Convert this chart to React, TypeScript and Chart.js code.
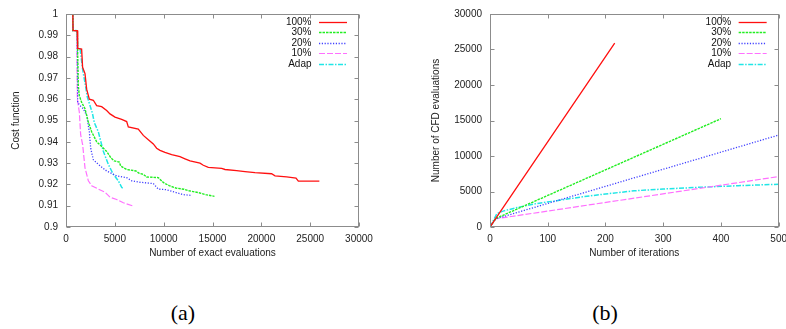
import React, { useEffect, useRef } from "react";
import { Chart, registerables } from "chart.js";
Chart.register(...registerables);

// ---------- data: panel (a) ----------
const seriesNames = ["100%", "30%", "20%", "10%", "Adap"];
const evalTicks = [0, 5000, 10000, 15000, 20000, 25000, 30000];
const costTicks = [0.9, 0.91, 0.92, 0.93, 0.94, 0.95, 0.96, 0.97, 0.98, 0.99, 1];

const cost100: [number, number][] = [
  [0, 1], [700, 1], [720, 0.9922], [1150, 0.9922], [1200, 0.9838], [1600, 0.9835],
  [1700, 0.975], [1945, 0.972], [2116, 0.9647], [2389, 0.96], [2798, 0.9595],
  [3140, 0.957], [3650, 0.9565], [4164, 0.9547], [4505, 0.9531], [5017, 0.9516],
  [5700, 0.9505], [6212, 0.9495], [6380, 0.947], [7400, 0.946], [7915, 0.943],
  [8430, 0.941], [8940, 0.939], [9280, 0.937], [9625, 0.936], [10136, 0.935],
  [10820, 0.934], [11670, 0.933], [12185, 0.932], [12700, 0.931], [13720, 0.93],
  [14060, 0.929], [14570, 0.928], [15940, 0.9275], [16280, 0.927], [17470, 0.9265],
  [18330, 0.926], [19350, 0.9255], [21050, 0.925], [21400, 0.924], [22590, 0.9235],
  [23550, 0.923], [23790, 0.9215], [25940, 0.9215],
];
const cost30: [number, number][] = [
  [0, 1], [700, 1], [720, 0.9922], [1150, 0.9922], [1263, 0.9662], [1365, 0.9616],
  [1604, 0.9585], [1945, 0.9555], [2287, 0.9493], [2628, 0.9447], [3140, 0.94],
  [3650, 0.9378], [4164, 0.9355], [4605, 0.9324], [4946, 0.931], [5460, 0.9305],
  [5600, 0.9286], [6212, 0.927], [7160, 0.9263], [7500, 0.9252], [7915, 0.9247],
  [8250, 0.9235], [9450, 0.9232], [9962, 0.9209], [10560, 0.9194], [11240, 0.9183],
  [12090, 0.9177], [12600, 0.917], [13620, 0.9161], [14300, 0.9152], [15200, 0.9144],
];
const cost20: [number, number][] = [
  [0, 1], [700, 1], [720, 0.9922], [1150, 0.9922], [1195, 0.9585], [1433, 0.957],
  [1775, 0.9555], [2116, 0.9524], [2389, 0.9447], [2526, 0.937], [2798, 0.9316],
  [3310, 0.9294], [4164, 0.9263], [5188, 0.924], [6212, 0.9232], [6724, 0.9217],
  [7575, 0.921], [8940, 0.9204], [9450, 0.9178], [10300, 0.9175], [11160, 0.9163],
  [12010, 0.9152], [12900, 0.9148],
];
const cost10: [number, number][] = [
  [0, 1], [700, 1], [720, 0.9922], [1100, 0.9922], [1160, 0.96], [1365, 0.9539],
  [1502, 0.9432], [1706, 0.9386], [1945, 0.9278], [2287, 0.9217], [2628, 0.9194],
  [3310, 0.9178], [3993, 0.9163], [4505, 0.914], [5188, 0.9129], [5870, 0.9114],
  [6894, 0.9098],
];
const costAdap: [number, number][] = [
  [0, 1], [700, 1], [720, 0.9922], [1150, 0.9922], [1200, 0.984], [1450, 0.9835],
  [1502, 0.9816], [1706, 0.9739], [1945, 0.9677], [2184, 0.961], [2457, 0.957],
  [2700, 0.9535], [2900, 0.949], [3310, 0.9447], [3823, 0.9355], [4335, 0.9294],
  [4846, 0.9247], [5358, 0.9217], [5700, 0.9186], [5850, 0.918],
];

// ---------- data: panel (b) ----------
const iterTicks = [0, 100, 200, 300, 400, 500];
const cfdTicks = [0, 5000, 10000, 15000, 20000, 25000, 30000];
const cfd100: [number, number][] = [[0, 0], [10, 1200], [216, 25900]];
const cfd30: [number, number][] = [[0, 0], [10, 1200], [400, 15250]];
const cfd20: [number, number][] = [[0, 0], [10, 1150], [500, 12950]];
const cfd10: [number, number][] = [[0, 0], [10, 1150], [500, 7100]];
const cfdAdap: [number, number][] = [
  [0, 0], [12, 1900], [25, 2300], [50, 2800], [80, 3300], [115, 3700], [160, 4250],
  [200, 4650], [250, 5100], [300, 5350], [370, 5620], [430, 5820], [500, 6020],
];

// ---------- styles ----------
const FONT = "'Liberation Sans', Arial, Helvetica, sans-serif";
const lineStyles = [
  { color: "#ff1010", dash: [] as number[], width: 1.3 },
  { color: "#22ee22", dash: [2.5, 1], width: 1.4 },
  { color: "#4040ff", dash: [1.2, 1.6], width: 1.3 },
  { color: "#ff70ff", dash: [6, 2], width: 1.2 },
  { color: "#20e6e6", dash: [5, 1.5, 1.5, 1.5], width: 1.5 },
];

function makeDatasets(series: [number, number][][]) {
  return series.map((s, i) => ({
    label: seriesNames[i],
    data: s.map(([x, y]) => ({ x, y })),
    borderColor: lineStyles[i].color,
    borderDash: lineStyles[i].dash,
    borderWidth: lineStyles[i].width,
    pointRadius: 0,
    fill: false,
    tension: 0,
  }));
}

const framePlugin = {
  id: "gnuframe",
  afterDatasetsDraw(chart: any) {
    const { ctx, chartArea } = chart;
    const { left, right, top, bottom } = chartArea;
    const x = chart.scales.x;
    const y = chart.scales.y;
    ctx.save();
    ctx.strokeStyle = "#8c8c8c";
    ctx.lineWidth = 1;
    ctx.setLineDash([]);
    const L = Math.round(left) + 0.5;
    const R = Math.round(right) - 0.5;
    const T = Math.round(top) + 0.5;
    const B = Math.round(bottom) - 0.5;
    ctx.strokeRect(L, T, R - L, B - T);
    ctx.beginPath();
    x.ticks.forEach((t: any) => {
      const p = Math.round(x.getPixelForValue(t.value)) + 0.5;
      ctx.moveTo(p, B); ctx.lineTo(p, B - 4);
      ctx.moveTo(p, T); ctx.lineTo(p, T + 4);
    });
    y.ticks.forEach((t: any) => {
      const p = Math.round(y.getPixelForValue(t.value)) + 0.5;
      ctx.moveTo(L, p); ctx.lineTo(L + 4, p);
      ctx.moveTo(R, p); ctx.lineTo(R - 4, p);
    });
    ctx.stroke();
    // legend (text then sample line), gnuplot style
    ctx.font = `10px ${FONT}`;
    ctx.textAlign = "right";
    ctx.textBaseline = "middle";
    chart.data.datasets.forEach((ds: any, i: number) => {
      const ry = Math.round(top + 8 + i * 10.4);
      ctx.fillStyle = "#111";
      ctx.fillText(ds.label, right - 47.5, ry + 0.5);
      ctx.strokeStyle = ds.borderColor;
      ctx.lineWidth = ds.borderWidth;
      ctx.setLineDash(ds.borderDash || []);
      ctx.beginPath();
      ctx.moveTo(right - 40, ry + 0.5);
      ctx.lineTo(right - 12, ry + 0.5);
      ctx.stroke();
    });
    ctx.restore();
  },
};

function makeConfig(opts: {
  datasets: any[]; xMin: number; xMax: number; yMin: number; yMax: number;
  xTicks: number[]; yTicks: number[]; xTitle: string; yTitle: string;
  yWidth: number; padRight: number; yTitlePad: number;
}) {
  return {
    type: "line",
    data: { datasets: opts.datasets },
    plugins: [framePlugin],
    options: {
      responsive: false,
      animation: false,
      events: [],
      layout: { padding: { left: 0, top: 10, right: opts.padRight, bottom: 0 } },
      plugins: { legend: { display: false }, tooltip: { enabled: false } },
      scales: {
        x: {
          type: "linear",
          min: opts.xMin,
          max: opts.xMax,
          grid: { display: false, drawTicks: false },
          border: { display: false },
          afterBuildTicks: (s: any) => { s.ticks = opts.xTicks.map((v) => ({ value: v })); },
          afterFit: (s: any) => { s.height = 53; },
          ticks: {
            autoSkip: false,
            maxRotation: 0,
            padding: 6,
            color: "#222",
            font: { family: FONT, size: 10 },
            callback: (v: any) => String(v),
          },
          title: {
            display: true,
            text: opts.xTitle,
            color: "#222",
            font: { family: FONT, size: 10 },
            padding: { top: 0, bottom: 21 },
          },
        },
        y: {
          type: "linear",
          min: opts.yMin,
          max: opts.yMax,
          grid: { display: false, drawTicks: false },
          border: { display: false },
          afterBuildTicks: (s: any) => { s.ticks = opts.yTicks.map((v) => ({ value: v })); },
          afterFit: (s: any) => { s.width = opts.yWidth; },
          ticks: {
            autoSkip: false,
            padding: 8,
            color: "#222",
            font: { family: FONT, size: 10 },
            callback: (v: any) => String(Number(Number(v).toFixed(4))),
          },
          title: {
            display: true,
            text: opts.yTitle,
            color: "#222",
            font: { family: FONT, size: 10 },
            padding: { top: opts.yTitlePad, bottom: 0 },
          },
        },
      },
    },
  };
}

function ChartCanvas({ config, left, width }: { config: any; left: number; width: number }) {
  const ref = useRef<HTMLCanvasElement>(null);
  useEffect(() => {
    const chart = new Chart(ref.current as HTMLCanvasElement, config);
    return () => chart.destroy();
  }, []);
  return (
    <canvas
      ref={ref}
      width={width}
      height={280}
      style={{ position: "absolute", left, top: 0, width, height: 280 }}
    />
  );
}

export default function App() {
  const configA = makeConfig({
    datasets: makeDatasets([cost100, cost30, cost20, cost10, costAdap]),
    xMin: 0, xMax: 30000, yMin: 0.9, yMax: 1,
    xTicks: evalTicks, yTicks: costTicks,
    xTitle: "Number of exact evaluations", yTitle: "Cost function",
    yWidth: 66, padRight: 34, yTitlePad: 10,
  });
  const configB = makeConfig({
    datasets: makeDatasets([cfd100, cfd30, cfd20, cfd10, cfdAdap]),
    xMin: 0, xMax: 500, yMin: 0, yMax: 30000,
    xTicks: iterTicks, yTicks: cfdTicks,
    xTitle: "Number of iterations", yTitle: "Number of CFD evaluations",
    yWidth: 97, padRight: 14, yTitlePad: 37,
  });
  const cap: React.CSSProperties = {
    position: "absolute",
    top: 300,
    width: 80,
    textAlign: "center",
    fontFamily: "'Liberation Serif', 'Times New Roman', serif",
    fontSize: 22,
    lineHeight: "26px",
    color: "#000",
  };
  return (
    <div
      style={{
        position: "fixed", left: 0, top: 0, width: 786, height: 329,
        overflow: "hidden", background: "#fff",
      }}
    >
      <ChartCanvas config={configA} left={0} width={393} />
      <ChartCanvas config={configB} left={393} width={400} />
      <div style={{ ...cap, left: 183 - 40 }}>(a)</div>
      <div style={{ ...cap, left: 605 - 40 }}>(b)</div>
    </div>
  );
}
